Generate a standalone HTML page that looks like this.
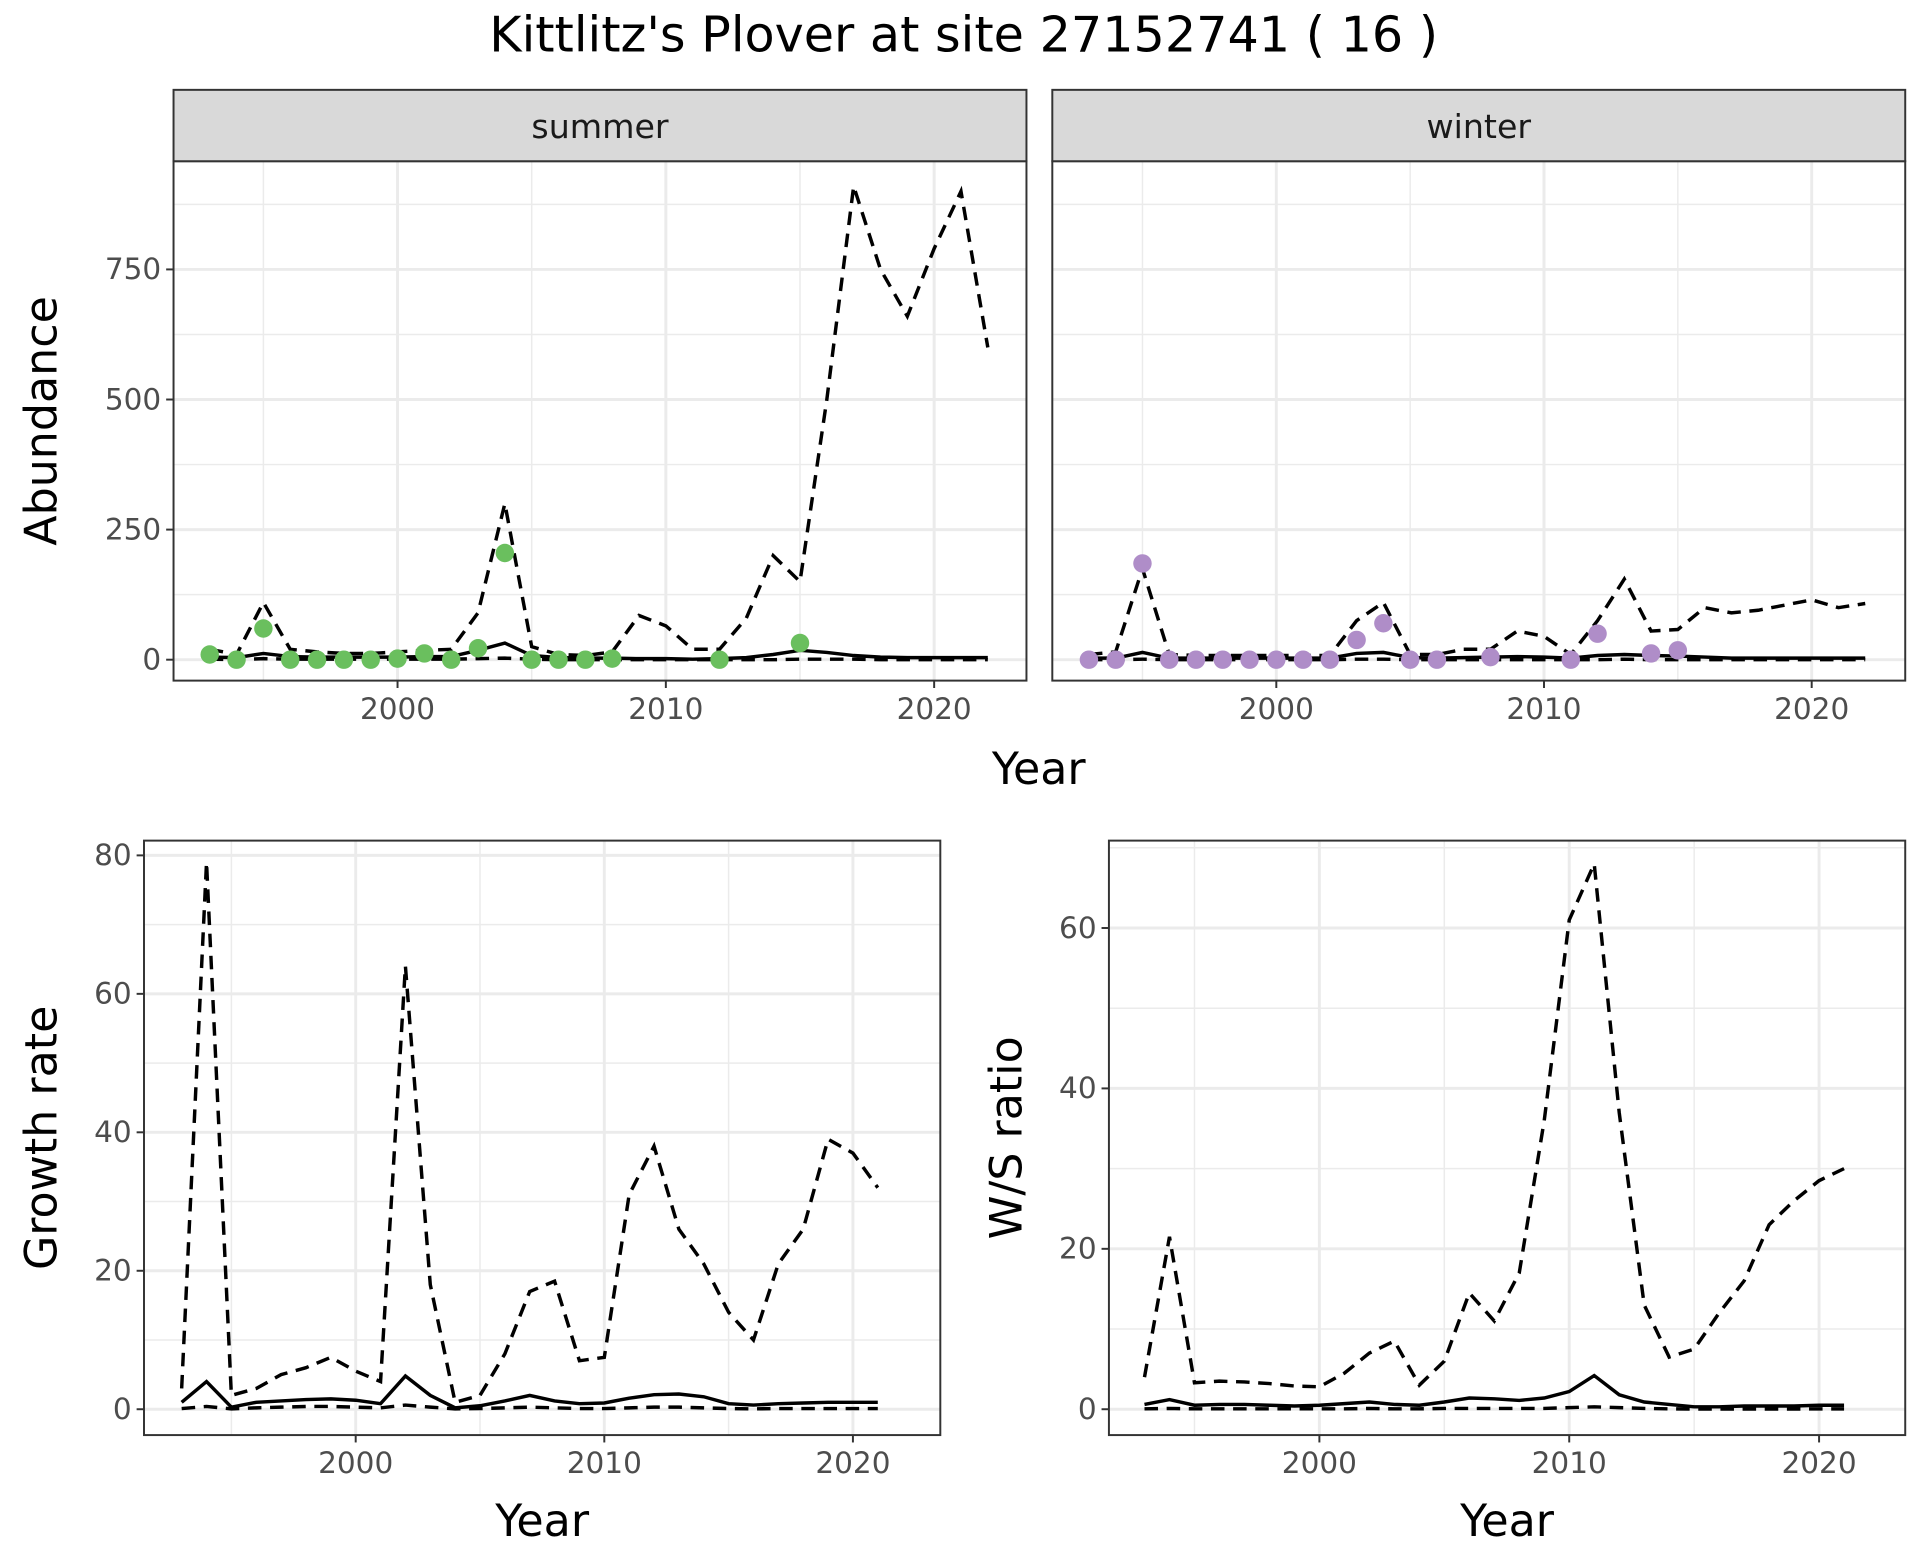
<!DOCTYPE html>
<html><head><meta charset="utf-8"><style>html,body{margin:0;padding:0;background:#fff}svg{display:block}</style></head>
<body>
<svg id="chart" width="1920" height="1560" viewBox="0 0 1560 1267.5" xmlns="http://www.w3.org/2000/svg" font-family="'DejaVu Sans','Liberation Sans',sans-serif">
<rect width="1560" height="1267.5" fill="#fff"/>
<text x="783" y="42" font-size="40" text-anchor="middle" fill="#000">Kittlitz's Plover at site 27152741 ( 16 )</text>
</svg>
<script>
const yearsTop = [1993,1994,1995,1996,1997,1998,1999,2000,2001,2002,2003,2004,2005,2006,2007,2008,2009,2010,2011,2012,2013,2014,2015,2016,2017,2018,2019,2020,2021,2022];
const summerUpper = [20,10,110,20,15,12,12,15,18,20,90,300,25,10,8,15,85,65,20,20,80,200,150,500,910,750,660,790,900,600];
const summerMedian = [5,4,12,6,5,5,5,5,6,6,18,32,8,4,3,3,2,2,1,2,4,10,18,14,8,5,4,4,4,4];
const summerLower = [1,0,2,1,1,1,1,1,1,1,2,3,1,0,0,0,0,0,0,0,0,0,1,1,1,0,0,0,0,0];
const summerObsYears = [1993,1994,1995,1996,1997,1998,1999,2000,2001,2002,2003,2004,2005,2006,2007,2008,2012,2015];
const summerObs = [10,0,60,0,0,0,0,2,12,0,22,205,0,0,0,2,0,32];
const winterUpper = [10,15,175,10,8,8,8,8,8,8,75,110,10,10,20,20,55,45,10,75,155,55,58,100,90,95,105,115,100,108];
const winterMedian = [3,3,14,3,3,3,3,3,3,3,12,14,4,3,4,5,6,5,3,8,10,8,7,5,3,3,3,3,3,3];
const winterLower = [0,0,1,0,0,0,0,0,0,0,1,1,0,0,0,0,0,0,0,0,1,0,0,0,0,0,0,0,0,0];
const winterObsYears = [1993,1994,1995,1996,1997,1998,1999,2000,2001,2002,2003,2004,2005,2006,2008,2011,2012,2014,2015];
const winterObs = [0,0,185,0,0,0,0,0,0,0,38,70,0,0,5,0,50,12,18];
const yearsBottom = [1993,1994,1995,1996,1997,1998,1999,2000,2001,2002,2003,2004,2005,2006,2007,2008,2009,2010,2011,2012,2013,2014,2015,2016,2017,2018,2019,2020,2021];
const growthUpper = [3,79,2,3,5,6,7.5,5.5,4,64,18,1,2,8,17,18.5,7,7.5,31,38,26,21,14,10,21,26,39,37,32];
const growthMedian = [1,4,0.3,1,1.2,1.4,1.5,1.3,0.8,4.8,2,0.2,0.5,1.2,2,1.2,0.8,0.9,1.6,2.1,2.2,1.8,0.8,0.6,0.8,0.9,1,1,1];
const growthLower = [0.1,0.4,0.05,0.2,0.3,0.4,0.4,0.3,0.2,0.6,0.3,0.05,0.1,0.2,0.3,0.2,0.1,0.1,0.2,0.3,0.3,0.2,0.1,0.05,0.1,0.1,0.1,0.1,0.1];
const ratioUpper = [4,21.5,3.3,3.5,3.4,3.2,2.9,2.8,4.5,7,8.5,3,6,14.5,11,17,36,61,68,37,13,6.5,7.5,12,16,23,26,28.5,30];
const ratioMedian = [0.6,1.2,0.5,0.6,0.6,0.5,0.4,0.5,0.7,0.9,0.6,0.5,0.9,1.4,1.3,1.1,1.4,2.2,4.2,1.8,0.9,0.6,0.3,0.3,0.4,0.4,0.4,0.5,0.5];
const ratioLower = [0.05,0.1,0.05,0.05,0.05,0.05,0.05,0.05,0.05,0.1,0.05,0.05,0.1,0.1,0.1,0.1,0.1,0.2,0.3,0.2,0.1,0.05,0.02,0.02,0.03,0.03,0.03,0.04,0.04];
const yTicksTop = [0,250,500,750];
const yTicksGrowth = [0,20,40,60,80];
const yTicksRatio = [0,20,40,60];
const xTicks = [2000,2010,2020];

const svg = document.getElementById('chart');
const NS = 'http://www.w3.org/2000/svg';
function mk(tag, attrs, parent){const e=document.createElementNS(NS,tag);for(const k in attrs)e.setAttribute(k,attrs[k]);(parent||svg).appendChild(e);return e;}

function panel(cfg){
  const g = mk('g',{});
  
  
  const {x0,x1,y0,y1,xa,xb,ya,yb} = cfg;
  const sx = v => xa + (v - 2000) * xb;
  const sy = v => ya - v * yb;
  mk('rect',{x:x0,y:y0,width:x1-x0,height:y1-y0,fill:'#fff'},g);
  for(const v of [1995,2005,2015]) mk('line',{x1:sx(v),x2:sx(v),y1:y0,y2:y1,stroke:'#ebebeb','stroke-width':1.2},g);
  const yt = cfg.yTicks, step = yt[1]-yt[0];
  for(let v=yt[0]-step/2; v<=yt[yt.length-1]+step; v+=step){const p=sy(v); if(p>y0&&p<y1) mk('line',{x1:x0,x2:x1,y1:p,y2:p,stroke:'#ebebeb','stroke-width':1.2},g);}
  for(const v of xTicks) mk('line',{x1:sx(v),x2:sx(v),y1:y0,y2:y1,stroke:'#ebebeb','stroke-width':2.4},g);
  for(const v of yt) mk('line',{x1:x0,x2:x1,y1:sy(v),y2:sy(v),stroke:'#ebebeb','stroke-width':2.4},g);
  const line=(xs,ys,dash,nm)=>{const p=mk('polyline',{points:xs.map((x,i)=>sx(x)+','+sy(ys[i])).join(' '),fill:'none',stroke:'#000','stroke-width':2.8,'stroke-dasharray':dash?'11,7':'none'},g);
    
    };
  line(cfg.years,cfg.upper,true,'upper-bound-line');
  line(cfg.years,cfg.lower,true,'lower-bound-line');
  line(cfg.years,cfg.median,false,'median-line');
  if(cfg.obs){cfg.obsYears.forEach((yr,i)=>{const c=mk('circle',{cx:sx(yr),cy:sy(cfg.obs[i]),r:7.5,fill:cfg.color},g);
    
    });}
  mk('rect',{x:x0,y:y0,width:x1-x0,height:y1-y0,fill:'none',stroke:'#333','stroke-width':1.6},g);
  if(cfg.strip){const s=mk('rect',{x:x0,y:y0-58,width:x1-x0,height:58,fill:'#d9d9d9',stroke:'#333','stroke-width':1.6},g);
    
    
    const t=mk('text',{x:(x0+x1)/2,y:y0-19,'font-size':27,'text-anchor':'middle',fill:'#1a1a1a'},g);t.textContent=cfg.strip;}
  for(const v of xTicks){mk('line',{x1:sx(v),x2:sx(v),y1:y1,y2:y1+6,stroke:'#333','stroke-width':1.6},g);
    const t=mk('text',{x:sx(v),y:y1+31,'font-size':24,'text-anchor':'middle',fill:'#4d4d4d'},g);t.textContent=v;
    
    }
  if(cfg.yLabels){for(const v of yt){mk('line',{x1:x0-6,x2:x0,y1:sy(v),y2:sy(v),stroke:'#333','stroke-width':1.6},g);
    const t=mk('text',{x:x0-10,y:sy(v)+8,'font-size':24,'text-anchor':'end',fill:'#4d4d4d'},g);t.textContent=v;
    
    }}
  if(cfg.ytitle){const t=mk('text',{x:0,y:0,'font-size':36,'text-anchor':'middle',fill:'#000',transform:`translate(${cfg.ytx},${(y0+y1)/2}) rotate(-90)`},g);t.textContent=cfg.ytitle;
    
    }
  if(cfg.xtitle){const t=mk('text',{x:(x0+x1)/2,y:cfg.xty,'font-size':36,'text-anchor':'middle',fill:'#000'},g);t.textContent=cfg.xtitle;
    
    }
}
panel({name:'summer-panel',x0:141,x1:834,y0:131,y1:553,xa:323,xb:21.8,ya:536,yb:105.7/250,yTicks:yTicksTop,years:yearsTop,upper:summerUpper,median:summerMedian,lower:summerLower,obs:summerObs,obsYears:summerObsYears,color:'#6abf5e',strip:'summer',yLabels:true,ytitle:'Abundance',ytx:46});
panel({name:'winter-panel',x0:855,x1:1548,y0:131,y1:553,xa:1037,xb:21.75,ya:536,yb:105.7/250,yTicks:yTicksTop,years:yearsTop,upper:winterUpper,median:winterMedian,lower:winterLower,obs:winterObs,obsYears:winterObsYears,color:'#af8dc8',strip:'winter',yLabels:false});
const yt=mk('text',{x:844,y:637,'font-size':36,'text-anchor':'middle',fill:'#000'});yt.textContent='Year';


panel({name:'growth-rate-panel',x0:117,x1:764,y0:683,y1:1166,xa:289,xb:20.2,ya:1145,yb:450/80,yTicks:yTicksGrowth,years:yearsBottom,upper:growthUpper,median:growthMedian,lower:growthLower,yLabels:true,ytitle:'Growth rate',ytx:46,xtitle:'Year',xty:1248});
panel({name:'ws-ratio-panel',x0:901,x1:1548,y0:683,y1:1166,xa:1072,xb:20.3,ya:1145,yb:391/60,yTicks:yTicksRatio,years:yearsBottom,upper:ratioUpper,median:ratioMedian,lower:ratioLower,yLabels:true,ytitle:'W/S ratio',ytx:830,xtitle:'Year',xty:1248});
</script>
</body></html>
